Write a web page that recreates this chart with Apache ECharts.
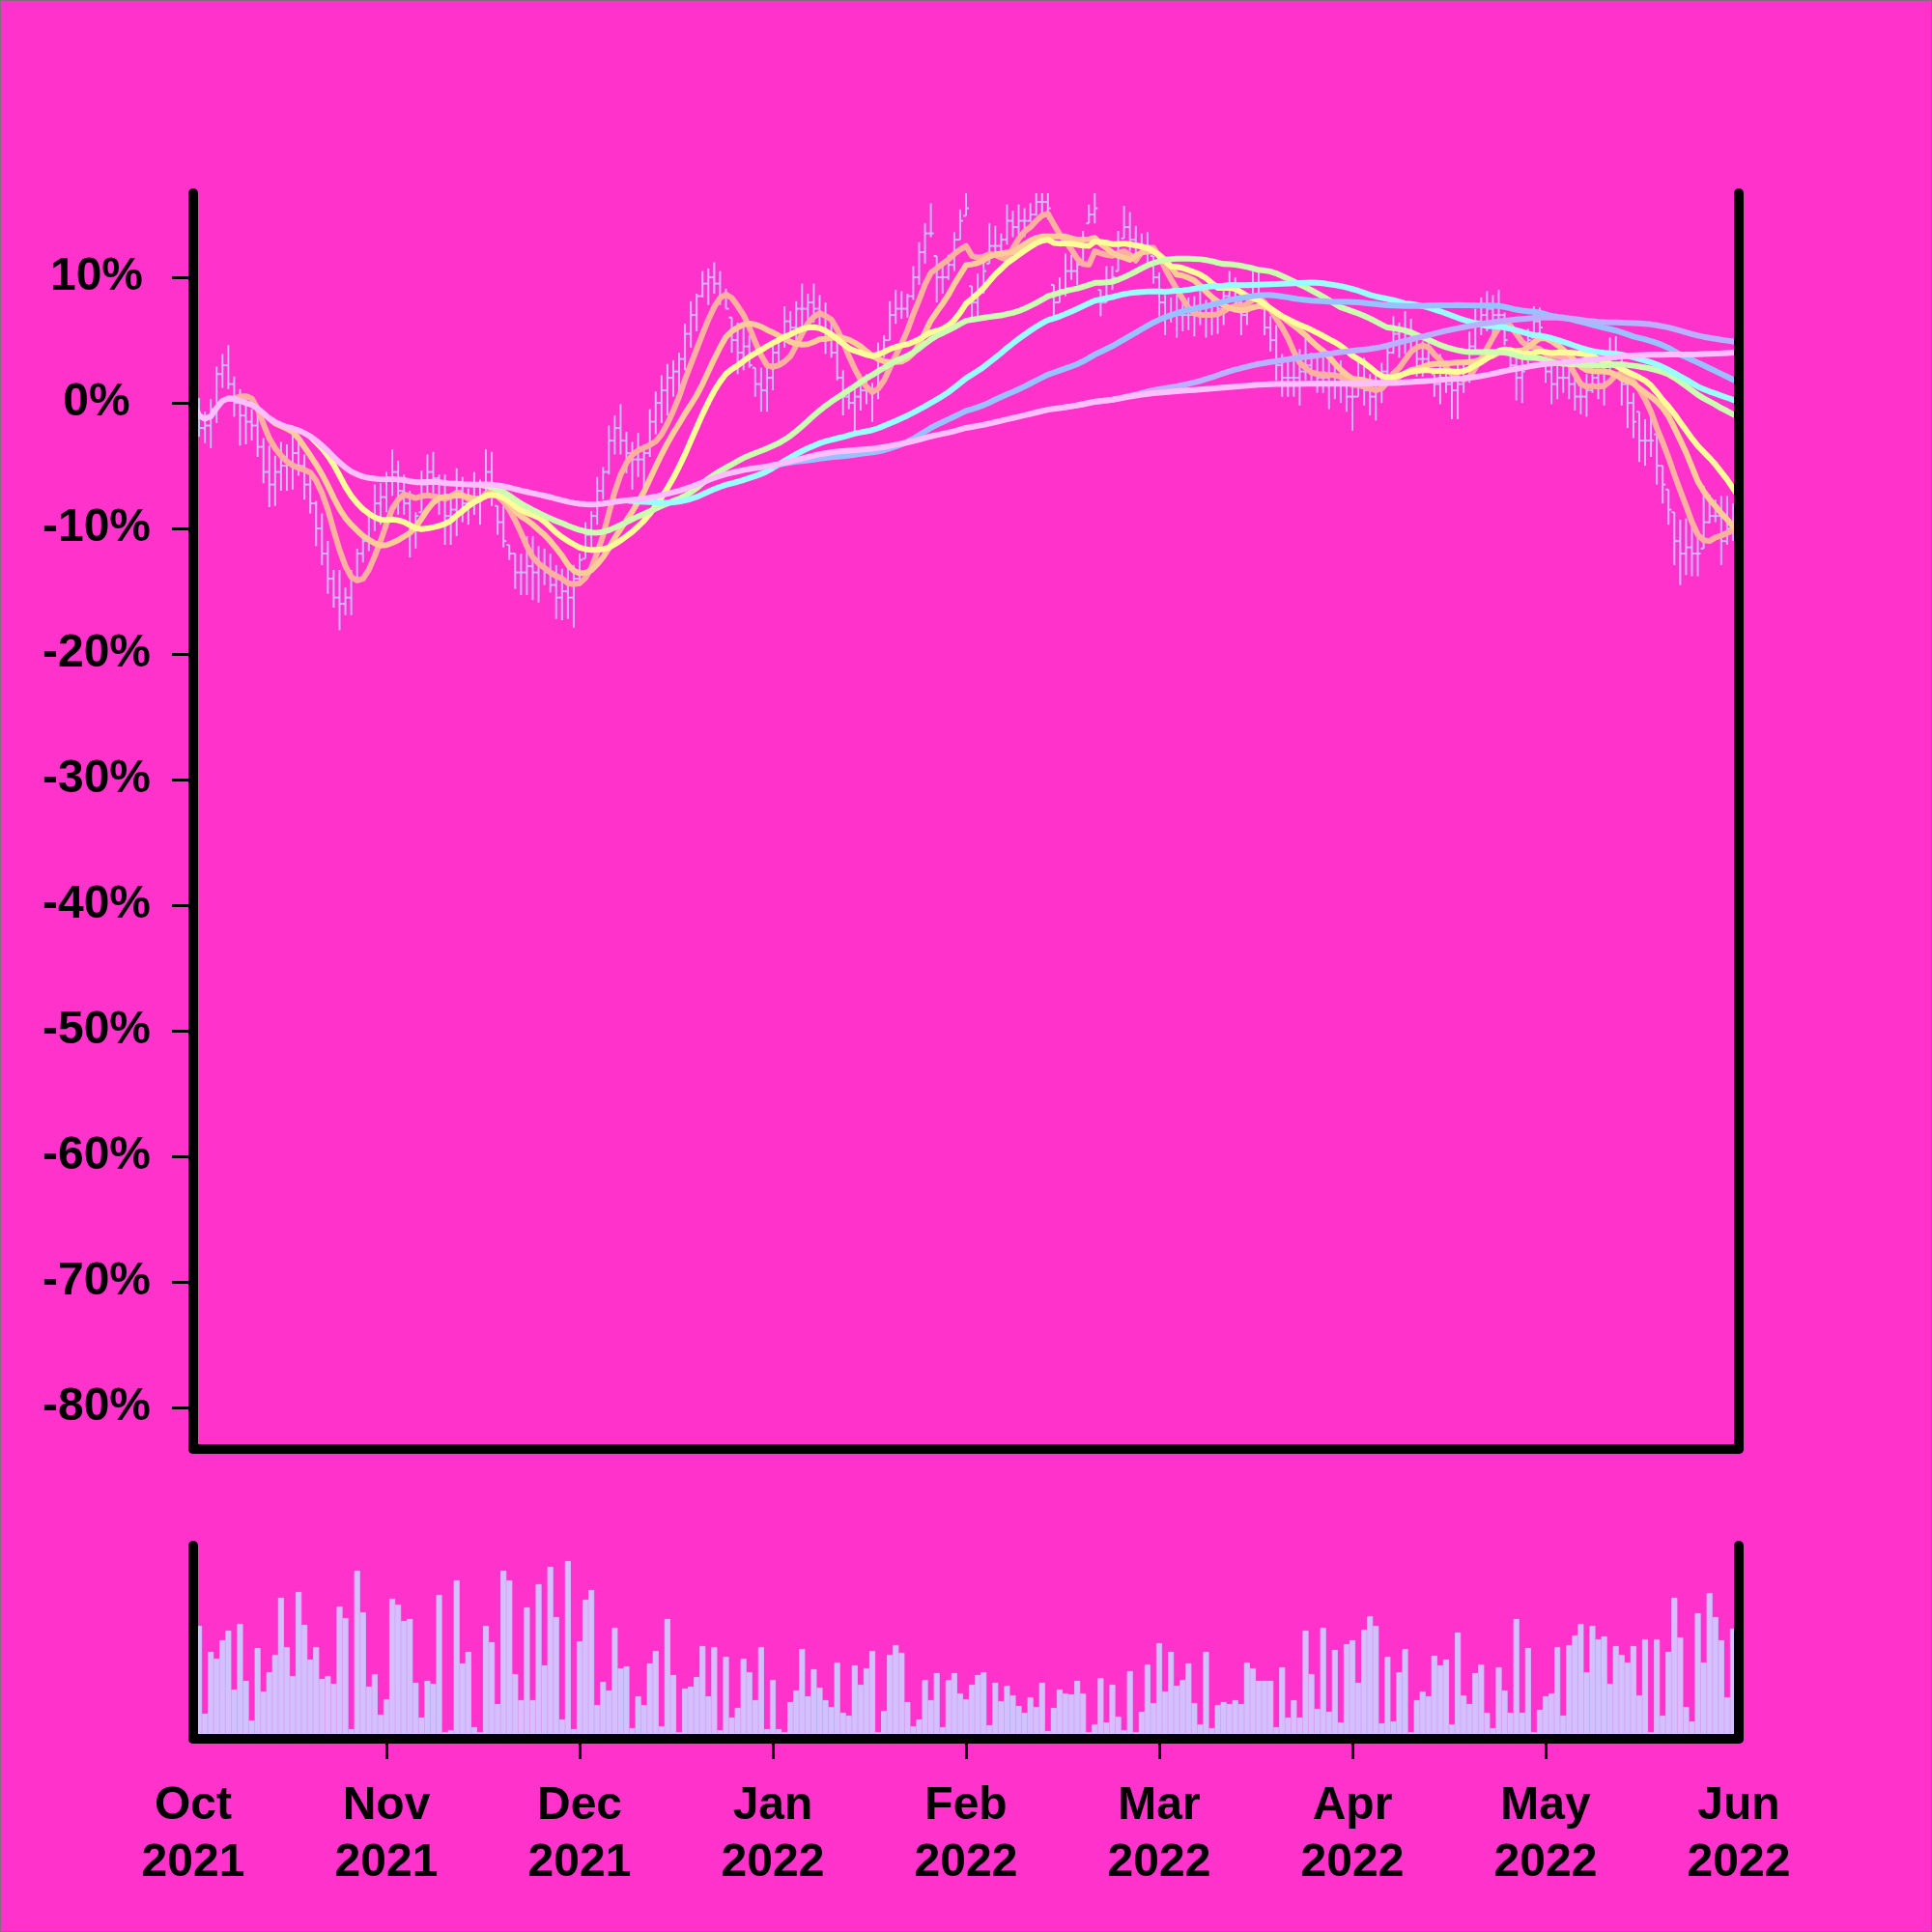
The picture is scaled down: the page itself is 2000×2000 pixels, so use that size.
<!DOCTYPE html>
<html>
<head>
<meta charset="utf-8">
<script src="https://cdn.jsdelivr.net/npm/echarts@6/dist/echarts.min.js"></script>
<style>
html,body{margin:0;padding:0;background:#FF33CC;}
#wrap{position:relative;width:2000px;height:2000px;}
#c{width:2000px;height:2000px;}
#edge{position:absolute;left:0;top:0;width:2000px;height:2000px;box-sizing:border-box;border:1px solid #8a6a80;pointer-events:none;}
</style>
</head>
<body>
<div id="wrap"><div id="c"></div><div id="edge"></div></div>
<script>
// ---- data ----
const tickLabels = ['Oct\n2021','Nov\n2021','Dec\n2021','Jan\n2022','Feb\n2022','Mar\n2022','Apr\n2022','May\n2022','Jun\n2022'];
const yTickValues = [-80,-70,-60,-50,-40,-30,-20,-10,0,10];

const highs = [0.6,
0.4,-0.7,0.3,2.9,3.9,4.6,2.1,1.1,0.7,-0.5,
-0.7,-2.8,-3.4,-4.2,-3.1,-3.3,-2.5,-2.5,-4.1,-5.4,
-7.8,-8.8,-11.0,-13.3,-13.3,-14.7,-13.3,-11.6,-10.5,-8.9,
-6.5,-6.4,-5.5,-3.7,-4.6,-5.7,-7.0,-8.7,-5.4,-4.1,
-3.9,-5.7,-5.7,-7.4,-5.2,-5.9,-6.8,-5.5,-6.1,-3.7,
-3.9,-8.2,-8.2,-11.3,-12.0,-12.0,-10.6,-10.6,-11.4,-11.6,
-12.0,-12.9,-13.2,-12.9,-12.9,-12.0,-9.5,-8.6,-5.9,-5.1,
-1.8,-1.0,-0.1,-2.3,-3.1,-2.4,-3.3,-0.5,0.9,2.2,
3.1,3.4,4.0,6.3,8.1,8.7,10.5,10.7,11.2,10.5,
9.1,6.8,6.4,6.4,5.4,2.8,2.8,2.8,4.9,5.4,
7.7,7.3,8.1,9.5,8.7,9.5,8.6,8.0,6.8,4.9,
2.6,1.3,1.4,2.3,2.3,1.6,4.8,5.4,8.1,9.0,
8.9,8.7,10.9,12.8,14.3,15.9,11.7,10.9,11.8,13.6,
15.4,16.8,9.3,10.3,11.3,14.3,14.1,13.5,15.8,15.3,
15.8,15.5,15.9,16.8,16.8,16.8,9.4,10.0,11.9,11.8,
11.7,13.7,15.8,16.8,9.0,10.9,10.9,13.7,15.7,15.2,
14.1,13.5,13.6,11.7,10.4,8.6,8.4,8.6,8.4,8.4,
8.5,9.0,8.2,8.5,8.2,9.0,10.5,10.0,8.5,8.5,
10.7,10.5,7.6,6.9,6.2,3.9,3.7,3.6,4.3,5.2,
4.0,3.6,3.7,3.6,3.4,3.4,2.3,1.6,3.4,3.6,
2.3,2.3,3.2,4.6,6.9,6.4,7.3,6.7,5.4,4.9,
5.4,2.3,3.9,3.4,2.3,3.4,3.1,5.7,7.5,8.4,
8.9,8.6,9.0,7.2,4.1,4.0,3.7,5.9,7.7,7.6,
3.9,3.6,3.4,3.4,2.8,2.6,1.6,2.3,3.1,2.3,
3.4,5.2,5.3,3.9,1.8,0.8,-0.7,-1.3,-0.7,-2.5,
-5.0,-6.9,-8.7,-9.3,-9.2,-9.8,-10.2,-6.6,-7.3,-7.7,
-7.4,-7.4,-8.0,-8.5];

const lows = [-1.0,
-2.7,-3.2,-3.6,-1.6,1.2,1.1,-1.1,-3.4,-3.3,-3.0,
-4.3,-6.4,-8.3,-8.2,-7.0,-7.0,-6.9,-5.8,-7.7,-8.8,
-11.4,-12.9,-15.2,-16.3,-18.1,-16.9,-16.9,-14.1,-12.7,-11.8,
-10.2,-9.7,-8.7,-7.4,-8.9,-8.9,-12.3,-11.6,-8.7,-7.5,
-7.2,-8.9,-11.3,-11.3,-10.6,-9.5,-9.7,-8.9,-9.7,-7.7,
-8.2,-10.5,-11.5,-12.5,-14.8,-15.3,-15.3,-15.7,-15.9,-14.5,
-15.1,-17.2,-17.3,-17.2,-17.9,-14.6,-12.4,-11.5,-9.7,-7.7,
-5.7,-4.1,-4.1,-5.6,-6.9,-5.9,-7.0,-4.3,-2.5,-1.6,
-1.0,0.5,0.7,2.6,4.4,5.7,8.4,7.8,8.7,7.8,
7.5,4.0,2.3,2.6,2.8,0.5,-0.7,-0.7,1.0,3.1,
4.4,5.2,4.6,5.9,6.2,6.4,6.2,3.9,3.6,1.8,
-1.0,-0.5,-2.3,-0.6,-0.1,-1.5,0.3,3.6,5.0,6.3,
6.7,6.8,8.2,9.4,11.1,13.2,8.0,8.7,9.8,10.5,
13.0,14.9,6.8,6.9,8.7,11.1,11.6,12.0,12.6,13.2,
13.4,13.2,14.4,14.9,14.9,14.6,6.9,8.0,8.5,9.8,
9.4,11.3,14.3,14.3,6.9,8.0,9.0,10.5,13.1,12.1,
11.1,11.8,11.1,9.5,6.9,5.4,6.4,5.2,5.7,5.8,
5.3,6.2,5.2,5.4,5.5,6.2,8.0,7.5,5.4,6.2,
8.0,8.0,5.4,4.1,1.8,0.5,0.5,0.5,-0.2,1.8,
1.8,0.8,0.8,-0.5,0.3,0.0,-0.7,-2.2,0.5,-0.2,
-1.0,-1.4,0.0,1.8,3.9,3.6,3.9,4.1,2.1,2.1,
2.6,0.5,-0.1,0.8,-1.3,-1.3,0.8,1.6,3.9,5.4,
5.7,5.4,6.2,4.6,2.8,0.2,0.0,2.8,5.2,5.4,
1.6,-0.1,0.3,0.8,0.3,-0.6,-0.9,-1.1,0.8,0.3,
-0.2,2.3,3.4,-0.2,-2.0,-2.8,-4.7,-5.0,-4.3,-6.5,
-8.0,-9.7,-12.9,-14.5,-13.7,-13.8,-13.8,-11.6,-9.6,-9.5,
-12.9,-11.3,-11.0,-11.5];

const opens = [0,
0,-2.0,-1.8,-0.5,2.3,3.0,1.5,0.0,-1.0,-1.5,
-1.8,-3.5,-5.5,-6.5,-5.5,-5.0,-4.8,-4.0,-5.0,-6.5,
-8.0,-10.0,-12.0,-14.0,-15.5,-16.0,-15.5,-14.0,-12.0,-11.0,
-9.0,-8.0,-7.5,-6.0,-5.5,-7.0,-8.0,-10.0,-8.7,-6.5,
-5.5,-6.0,-7.5,-9.0,-8.5,-7.0,-8.0,-7.5,-7.5,-6.5,
-5.5,-8.2,-9.5,-11.3,-12.0,-13.5,-13.5,-13.0,-13.5,-13.0,
-13.5,-14.5,-15.5,-15.0,-15.5,-14.0,-12.4,-10.5,-9.0,-7.0,
-5.5,-3.0,-2.0,-3.0,-4.0,-4.5,-4.5,-4.0,-1.5,0.0,
1.0,2.0,2.5,3.5,5.5,7.0,8.5,9.5,10.0,9.5,
8.5,6.8,5.0,4.0,4.5,2.8,1.5,1.0,2.0,4.0,
5.0,6.5,6.0,7.5,7.5,8.0,7.5,7.0,5.0,4.0,
2.0,0.5,0.0,0.5,1.0,1.0,1.0,4.0,5.0,7.0,
7.5,7.5,8.5,10.0,12.0,13.5,11.7,10.0,10.0,11.0,
13.0,14.9,9.3,8.0,9.0,11.1,12.5,12.5,13.0,14.5,
14.0,14.5,14.5,15.0,16.0,16.0,9.4,8.0,9.0,10.5,
10.5,11.3,14.3,15.0,9.0,8.0,9.5,10.5,13.1,14.0,
13.0,12.5,12.5,11.7,10.0,8.0,7.0,7.0,7.0,7.0,
7.0,7.0,7.0,7.0,7.0,7.5,8.5,9.0,8.0,7.0,
8.0,9.5,7.6,6.0,5.0,3.0,2.0,2.0,2.0,2.5,
3.0,2.5,2.0,2.0,1.5,2.0,1.5,0.5,0.5,2.0,
1.0,0.5,1.0,2.5,4.0,5.5,5.0,5.5,5.0,3.5,
3.5,2.3,1.5,2.0,1.5,1.0,1.5,2.5,4.5,6.5,
7.0,7.5,7.0,7.0,4.1,3.0,2.0,2.8,5.2,6.5,
3.9,2.5,1.5,2.0,2.0,1.5,0.5,0.5,1.0,2.0,
1.5,2.5,4.0,3.9,1.5,0.0,-0.7,-3.0,-3.0,-2.5,
-5.0,-6.9,-8.7,-11.0,-12.0,-11.5,-12.0,-11.6,-9.5,-9.0,
-9.0,-11.0,-10.0,-10.5];

const closes = [0,
-2.0,-1.8,-0.5,2.3,3.0,1.5,0.0,-1.0,-1.5,-1.8,
-3.5,-5.5,-6.5,-5.5,-5.0,-4.8,-4.0,-5.0,-6.5,-8.0,
-10.0,-12.0,-14.0,-15.5,-16.0,-15.5,-14.0,-12.0,-11.0,-9.0,
-8.0,-7.5,-6.0,-5.5,-7.0,-8.0,-10.0,-9.0,-6.5,-5.5,
-6.0,-7.5,-9.0,-8.5,-7.0,-8.0,-7.5,-7.5,-6.5,-5.5,
-7.5,-9.5,-11.0,-12.0,-13.5,-13.5,-13.0,-13.5,-13.0,-13.5,
-14.5,-15.5,-15.0,-15.5,-14.0,-12.5,-10.5,-9.0,-7.0,-5.5,
-3.0,-2.0,-3.0,-4.0,-4.5,-4.5,-4.0,-1.5,0.0,1.0,
2.0,2.5,3.5,5.5,7.0,8.5,9.5,10.0,9.5,8.5,
7.5,5.0,4.0,4.5,3.0,1.5,1.0,2.0,4.0,5.0,
6.5,6.0,7.5,7.5,8.0,7.5,7.0,5.0,4.0,2.0,
0.5,0.0,0.5,1.0,1.0,1.0,4.0,5.0,7.0,7.5,
7.5,8.5,10.0,12.0,13.5,13.5,10.0,10.0,11.0,13.0,
14.5,15.5,8.0,9.0,10.5,12.5,12.5,13.0,14.5,14.0,
14.5,14.5,15.0,16.0,16.0,15.5,8.0,9.0,10.5,10.5,
11.0,13.0,15.0,15.5,8.0,9.5,10.0,12.5,14.0,13.0,
12.5,12.5,12.0,10.0,8.0,7.0,7.0,7.0,7.0,7.0,
7.0,7.0,7.0,7.0,7.5,8.5,9.0,8.0,7.0,8.0,
9.5,8.5,6.0,5.0,3.0,2.0,2.0,2.0,2.5,3.0,
2.5,2.0,2.0,1.5,2.0,1.5,0.5,0.5,2.0,1.0,
0.5,1.0,2.5,4.0,5.5,5.0,5.5,5.0,3.5,3.5,
3.0,1.5,2.0,1.5,1.0,1.5,2.5,4.5,6.5,7.0,
7.5,7.0,7.0,5.0,3.0,2.0,2.5,5.0,6.5,6.0,
2.5,1.5,2.0,2.0,1.5,0.5,0.5,1.0,2.0,1.5,
2.5,4.0,4.0,1.5,0.0,-1.5,-3.0,-3.0,-3.0,-5.0,
-6.5,-8.5,-11.0,-12.0,-11.5,-12.0,-12.0,-9.5,-9.0,-9.0,
-11.0,-10.0,-10.5,-10.5];

const volumes = [90,
117,26,90,83,102,112,51,119,60,19,
94,49,69,87,146,95,65,152,118,82,
95,62,65,57,137,125,10,174,131,54,
67,25,41,145,139,122,124,58,22,60,
57,149,7,9,164,78,90,12,7,117,
100,36,174,164,67,40,136,40,160,76,
178,126,20,184,10,101,144,154,35,59,
50,115,73,75,11,44,35,78,91,13,
124,66,7,52,54,64,96,44,95,9,
85,22,32,83,69,40,95,10,61,10,
7,38,50,93,44,72,53,40,33,79,
27,24,76,56,73,91,7,29,87,97,
89,38,13,20,61,40,68,12,61,68,
47,41,56,66,69,14,58,39,55,45,
34,27,43,33,58,8,32,51,47,46,
60,47,7,15,63,17,56,23,9,70,
7,28,77,37,99,49,90,55,61,78,
37,15,90,11,35,38,36,40,36,79,
73,60,60,60,12,74,22,40,22,112,
67,31,115,28,92,17,98,102,58,113,
127,117,16,85,18,69,93,7,40,49,
44,86,76,82,15,110,45,36,68,77,
27,11,74,50,27,124,27,94,7,30,
44,47,95,24,97,107,119,69,117,103,
106,57,96,87,79,96,45,103,7,103,
24,90,146,105,33,18,130,79,151,126,
102,43,114,80];

// moving-average windows of the overlaid lines (pink: 200, grows from the first bar)
const maWindows = [7, 14, 21, 50, 75, 100, 150, 200];
const maMinPeriods = [7, 14, 21, 50, 75, 100, 150, 1];
const maColors = ['#FFB0A0','#FFCC99','#FFFF99','#CCFFB0','#99FFFF','#99C0FF','#BBB0FF','#FFBFFF'];

// ---- build ----
const cats = closes.map((_, i) => String(i));
function rolling(win, minP) {
  return closes.map((_, i) => {
    const start = Math.max(0, i - win + 1);
    const n = i - start + 1;
    if (n < minP) return null;
    let s = 0;
    for (let k = start; k <= i; k++) s += closes[k];
    return +(s / n).toFixed(3);
  });
}
const ohlc = closes.map((c, i) => [i, opens[i], highs[i], lows[i], c]);

const FONT = "'Liberation Sans', Arial, Helvetica, sans-serif";
const BLACK = '#000000';
const OHLC_COLOR = '#CFBAFF';
const VOL_COLOR = '#D2C0FF';

const frameLine = {show: true, onZero: false, lineStyle: {color: BLACK, width: 10, cap: 'round'}};

const series = [];
series.push({
  type: 'custom',
  name: 'ohlc',
  xAxisIndex: 0, yAxisIndex: 0,
  clip: true,
  z: 1,
  data: ohlc,
  encode: {x: 0, y: [1, 2, 3, 4]},
  renderItem: function (params, api) {
    const x = api.value(0);
    const o = api.coord([x, api.value(1)]);
    const h = api.coord([x, api.value(2)]);
    const l = api.coord([x, api.value(3)]);
    const c = api.coord([x, api.value(4)]);
    const st = {stroke: OHLC_COLOR, lineWidth: 2};
    return {
      type: 'group',
      children: [
        {type: 'line', shape: {x1: h[0], y1: h[1], x2: l[0], y2: l[1]}, style: st},
        {type: 'line', shape: {x1: o[0] - 3, y1: o[1], x2: o[0], y2: o[1]}, style: st},
        {type: 'line', shape: {x1: c[0], y1: c[1], x2: c[0] + 3, y2: c[1]}, style: st}
      ]
    };
  }
});
maWindows.forEach((w, k) => {
  series.push({
    type: 'line',
    name: 'MA' + w,
    xAxisIndex: 0, yAxisIndex: 0,
    data: rolling(w, maMinPeriods[k]),
    showSymbol: false,
    symbol: 'none',
    smooth: false,
    connectNulls: false,
    z: 2 + k,
    lineStyle: {color: maColors[k], width: 6, cap: 'round', join: 'round'},
    emphasis: {disabled: true}
  });
});
series.push({
  type: 'bar',
  name: 'volume',
  xAxisIndex: 1, yAxisIndex: 2,
  data: volumes,
  barWidth: '100%',
  barGap: '0%',
  itemStyle: {color: VOL_COLOR, borderColor: VOL_COLOR, borderWidth: 0.8},
  clip: true,
  z: 1
});

const labelFont = {color: BLACK, fontSize: 48, fontWeight: 'bold', fontFamily: FONT};

const option = {
  backgroundColor: '#FF33CC',
  animation: false,
  grid: [
    {left: 200, right: 200, top: 200, height: 1300},
    {left: 200, right: 200, top: 1600, height: 200}
  ],
  xAxis: [
    {
      gridIndex: 0, type: 'category', data: cats, boundaryGap: false, z: 20,
      axisLine: frameLine, axisTick: {show: false}, axisLabel: {show: false}, splitLine: {show: false}
    },
    {
      gridIndex: 1, type: 'category', data: cats, boundaryGap: false, z: 20,
      axisLine: frameLine,
      axisTick: {
        show: true, length: 21,
        interval: function (idx) { return idx % 33 === 0 && idx !== 0 && idx !== cats.length - 1; },
        lineStyle: {color: BLACK, width: 3}
      },
      axisLabel: Object.assign({
        show: true, interval: 32, margin: 40, lineHeight: 59,
        formatter: function (v) { return tickLabels[Number(v) / 33]; }
      }, labelFont),
      splitLine: {show: false}
    }
  ],
  yAxis: [
    {
      gridIndex: 0, type: 'value', position: 'left', min: -83.3, max: 16.7, z: 20,
      axisLine: frameLine,
      axisTick: {show: true, customValues: yTickValues, length: 22, lineStyle: {color: BLACK, width: 3}},
      axisLabel: Object.assign({
        show: true, customValues: yTickValues, margin: 100, align: 'center',
        formatter: function (v) { return v + '%'; }
      }, labelFont),
      splitLine: {show: false}
    },
    {
      gridIndex: 0, type: 'value', position: 'right', min: -83.3, max: 16.7, z: 20,
      axisLine: frameLine, axisTick: {show: false}, axisLabel: {show: false}, splitLine: {show: false}
    },
    {
      gridIndex: 1, type: 'value', position: 'left', min: 0, max: 200, z: 20,
      axisLine: frameLine, axisTick: {show: false}, axisLabel: {show: false}, splitLine: {show: false}
    },
    {
      gridIndex: 1, type: 'value', position: 'right', min: 0, max: 200, z: 20,
      axisLine: frameLine, axisTick: {show: false}, axisLabel: {show: false}, splitLine: {show: false}
    }
  ],
  series: series
};

const chart = echarts.init(document.getElementById('c'), null, {renderer: 'canvas', width: 2000, height: 2000});
chart.setOption(option);
</script>
</body>
</html>
